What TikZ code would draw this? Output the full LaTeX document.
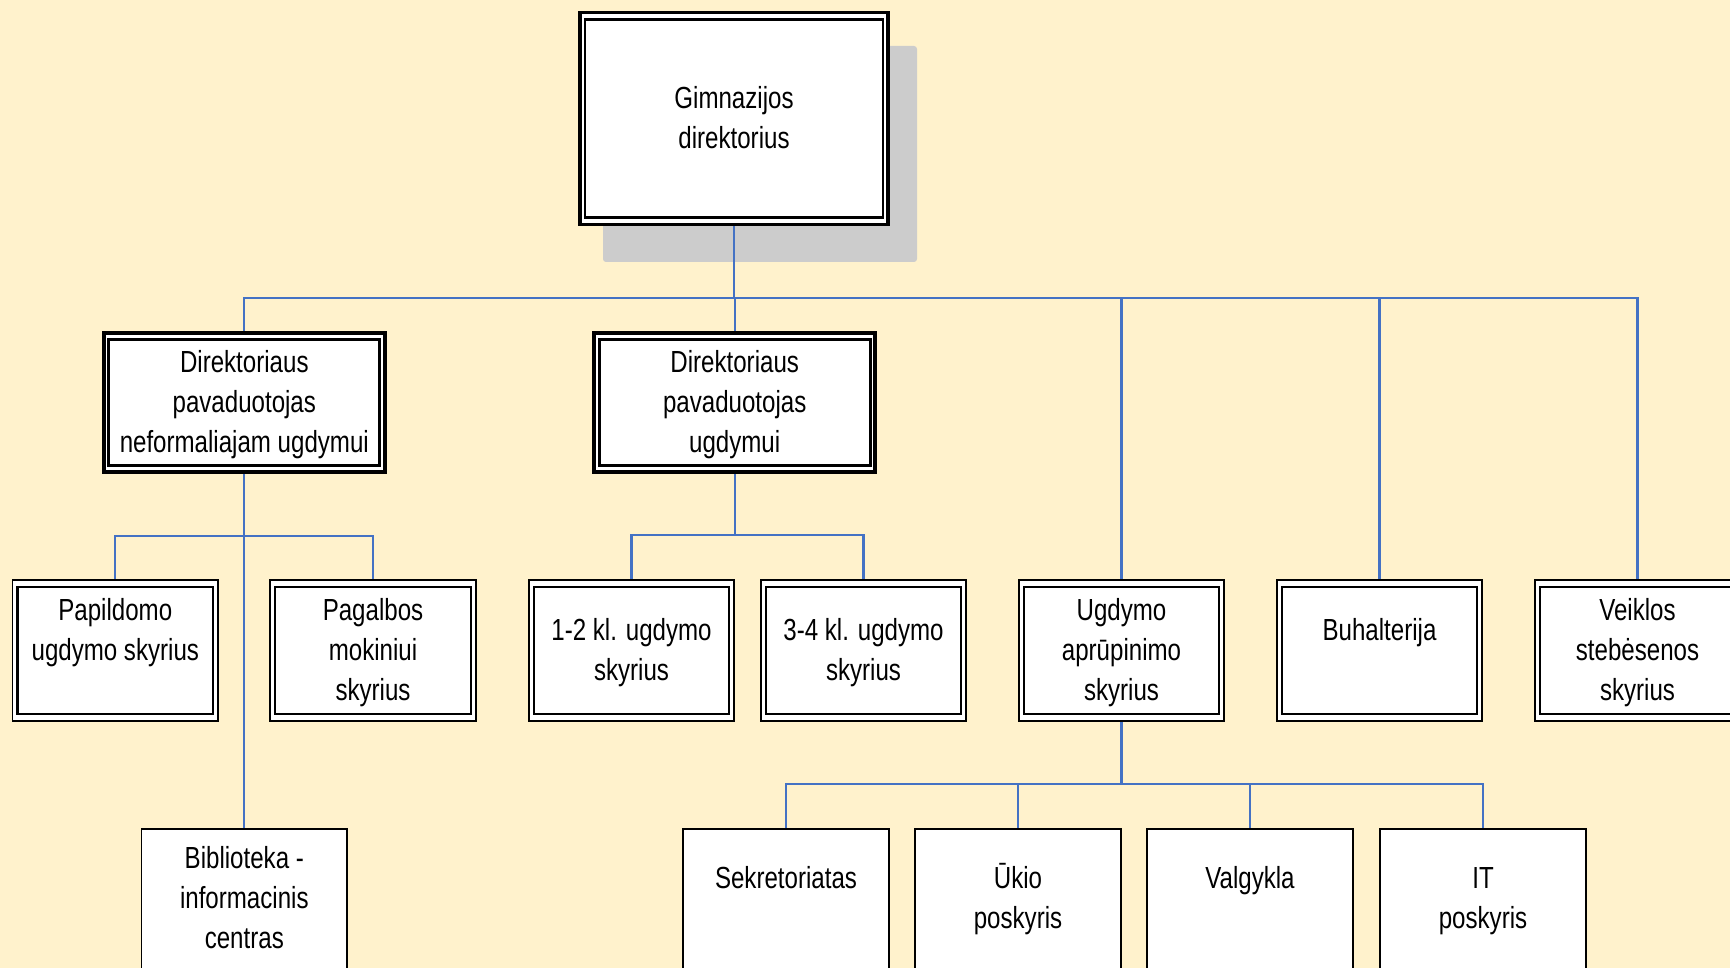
\documentclass[tikz,border=0pt]{standalone}
\usepackage{fontspec}
\setmainfont{Liberation Sans}[FakeStretch=0.79]
\definecolor{bgcream}{HTML}{FFF2CC}
\definecolor{connblue}{HTML}{4472C4}
\definecolor{shadowgray}{HTML}{CCCCCC}
\pgfdeclarelayer{back}
\pgfdeclarelayer{bg}
\pgfsetlayers{back,bg,main}
\begin{document}
\begin{tikzpicture}[x=1pt,y=1pt,
  txt/.style={inner sep=0pt, outer sep=0pt, align=center, font=\fontsize{30.5}{40}\selectfont},
  boxbase/.style={rectangle, fill=white, draw=black, inner sep=0pt, outer sep=0pt},
  inner box/.style={path picture={\draw[black, line width=#1] ([shift={(5,-6.5)}]path picture bounding box.north west) rectangle ([shift={(-5,6.5)}]path picture bounding box.south east);}},
  topbox/.style={boxbase, line width=3.5pt, minimum width=308pt, minimum height=211.6pt, inner box=2.7pt},
  lvlone/.style={boxbase, line width=4.2pt, minimum width=281pt, minimum height=139pt, inner box=2.8pt},
  lvltwo/.style={boxbase, line width=1.8pt, minimum width=205.5pt, minimum height=140.5pt, inner box=2.2pt},
  lvlthree/.style={boxbase, line width=1.8pt, minimum width=205.5pt, minimum height=180pt, anchor=north},
  conn/.style={draw=connblue, line width=2.2pt}
]
\useasboundingbox (0,0) rectangle (1730,-968);
\clip (0,0) rectangle (1730,-968);
\begin{pgfonlayer}{back}
  \fill[bgcream] (0,0) rectangle (1730,-968);
  \fill[shadowgray, rounded corners=3pt] (603,-46) rectangle (917,-262);
\end{pgfonlayer}

% boxes
\node[topbox] (dir) at (734,-118.5) {};
\node[lvlone] (nef) at (244.3,-402.4) {};
\node[lvlone] (ugd) at (734.7,-402.4) {};
\node[lvltwo] (pap)  at (115.3,-650.4) {};
\node[lvltwo] (pag)  at (373,-650.4) {};
\node[lvltwo] (k12)  at (631.5,-650.4) {};
\node[lvltwo] (k34)  at (863.5,-650.4) {};
\node[lvltwo] (apr)  at (1121.5,-650.4) {};
\node[lvltwo] (buh)  at (1379.5,-650.4) {};
\node[lvltwo] (veik) at (1637.5,-650.4) {};
\node[lvlthree] (bib) at (244.3,-829) {};
\node[lvlthree] (sek) at (786,-829) {};
\node[lvlthree] (uki) at (1018,-829) {};
\node[lvlthree] (val) at (1250,-829) {};
\node[lvlthree] (it)  at (1483,-829) {};

% texts
\node[txt] (tdir) at (734,-121) {\strut Gimnazijos\\\strut direktorius};
\node[txt] (tnef) at (244.3,-404) {\strut Direktoriaus\\\strut pavaduotojas\\\strut neformaliajam ugdymui};
\node[txt] (tugd) at (734.7,-404) {\strut Direktoriaus\\\strut pavaduotojas\\\strut ugdymui};
\node[txt] (tpap) at (115.3,-632) {\strut Papildomo\\\strut ugdymo skyrius};
\node[txt] (tpag) at (373,-652) {\strut Pagalbos\\\strut mokiniui\\\strut skyrius};
\node[txt] (tk12) at (631.5,-652) {\strut 1-2 kl. ugdymo\\\strut skyrius};
\node[txt] (tk34) at (863.5,-652) {\strut 3-4 kl. ugdymo\\\strut skyrius};
\node[txt] (tapr) at (1121.5,-652) {\strut Ugdymo\\\strut aprūpinimo\\\strut skyrius};
\node[txt] (tbuh) at (1379.5,-632) {\strut Buhalterija};
\node[txt] (tveik) at (1637.5,-652) {\strut Veiklos\\\strut stebėsenos\\\strut skyrius};
\node[txt] (tbib) at (244.3,-900) {\strut Biblioteka -\\\strut informacinis\\\strut centras};
\node[txt] (tsek) at (786,-880) {\strut Sekretoriatas};
\node[txt] (tuki) at (1018,-900) {\strut Ūkio\\\strut poskyris};
\node[txt] (tval) at (1250,-880) {\strut Valgykla};
\node[txt] (tit)  at (1483,-900) {\strut IT\\\strut poskyris};

% connectors
\begin{pgfonlayer}{bg}
  \coordinate (busA) at (734,-298);
  \coordinate (busB) at (244.3,-536);
  \coordinate (busC) at (734.7,-535);
  \coordinate (busD) at (1121.5,-784);
  \draw[conn] (dir.south) -- (busA);
  \draw[conn] (busA) -| (nef.north);
  \draw[conn] (busA) -| (ugd.north);
  \draw[conn] (busA) -| (apr.north);
  \draw[conn] (busA) -| (buh.north);
  \draw[conn] (busA) -| (veik.north);
  \draw[conn] (nef.south) -- (bib.north);
  \draw[conn] (busB) -| (pap.north);
  \draw[conn] (busB) -| (pag.north);
  \draw[conn] (ugd.south) -- (busC);
  \draw[conn] (busC) -| (k12.north);
  \draw[conn] (busC) -| (k34.north);
  \draw[conn] (apr.south) -- (busD);
  \draw[conn] (busD) -| (sek.north);
  \draw[conn] (busD) -| (uki.north);
  \draw[conn] (busD) -| (val.north);
  \draw[conn] (busD) -| (it.north);
\end{pgfonlayer}
\end{tikzpicture}
\end{document}
